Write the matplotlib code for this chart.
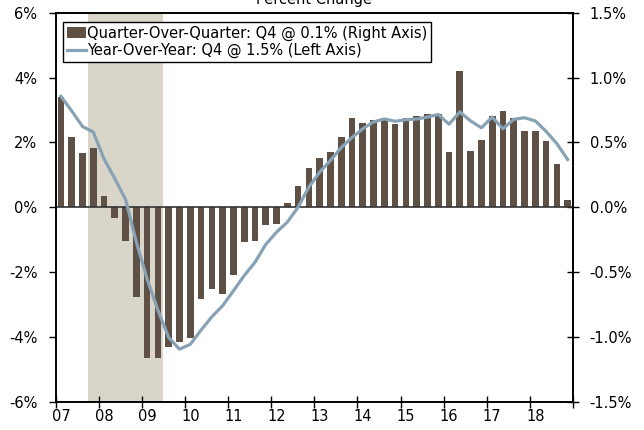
import matplotlib
matplotlib.use("Agg")
import matplotlib.pyplot as plt
import numpy as np
from matplotlib.patches import Patch
from matplotlib.lines import Line2D

# quarterly data, 2007 Q1 .. 2018 Q4
qoq = [0.85, 0.54, 0.42, 0.46,
       0.09, -0.08, -0.26, -0.69,
       -1.165, -1.16, -1.08, -1.04,
       -1.01, -0.71, -0.63, -0.67,
       -0.52, -0.27, -0.26, -0.14,
       -0.13, 0.03, 0.16, 0.30,
       0.38, 0.425, 0.54, 0.69,
       0.65, 0.67, 0.69, 0.64,
       0.69, 0.70, 0.715, 0.715,
       0.425, 1.05, 0.435, 0.52,
       0.70, 0.745, 0.69, 0.585,
       0.59, 0.51, 0.33, 0.055]

yoy = [3.42, 2.97, 2.49, 2.32,
       1.49, 0.88, 0.24, -1.08,
       -2.22, -3.18, -4.02, -4.38,
       -4.23, -3.79, -3.38, -3.04,
       -2.58, -2.11, -1.70, -1.15,
       -0.77, -0.46, 0.0, 0.62,
       1.08, 1.44, 1.84, 2.15,
       2.42, 2.63, 2.72, 2.65,
       2.70, 2.72, 2.78, 2.86,
       2.56, 2.94, 2.66, 2.45,
       2.78, 2.42, 2.71, 2.76,
       2.66, 2.34, 1.96, 1.47]

years = list(range(2007, 2019))
year_labels = ["07", "08", "09", "10", "11", "12", "13", "14", "15", "16", "17", "18"]
recession = (2007.75, 2009.5)

bar_color = "#5e5045"
line_color = "#87a2b5"
shade_color = "#d9d5c8"

x = 2007 + (np.arange(len(qoq)) + 0.5) / 4

plt.rcParams["font.family"] = "DejaVu Sans"
plt.rcParams["font.size"] = 10.5

fig = plt.figure(figsize=(6.44, 4.30), dpi=100)
ax = fig.add_axes([0.0862, 0.0658, 0.8036, 0.9047])
ax2 = ax.twinx()

# shading + bars on right axis, line on left axis drawn on top
ax2.axvspan(recession[0], recession[1], color=shade_color, zorder=0, lw=0)
ax2.bar(x, qoq, width=0.155, color=bar_color, zorder=2)
ax2.axhline(0, color="#333333", lw=1.2, zorder=3)
ax.plot(x, yoy, color=line_color, lw=2.3, zorder=4)
ax.set_zorder(ax2.get_zorder() + 1)
ax.patch.set_visible(False)

ax.set_xlim(2007, 2019)
ax.set_ylim(-6, 6)
ax2.set_ylim(-1.5, 1.5)

ax.set_yticks([-6, -4, -2, 0, 2, 4, 6])
ax.set_yticklabels(["%d%%" % v for v in [-6, -4, -2, 0, 2, 4, 6]])
ax2.set_yticks([-1.5, -1.0, -0.5, 0.0, 0.5, 1.0, 1.5])
ax2.set_yticklabels(["%.1f%%" % v for v in [-1.5, -1.0, -0.5, 0.0, 0.5, 1.0, 1.5]])

ax.set_xticks(years + [2019])
ax.set_xticklabels([])
ax.set_xticks([y + 0.125 for y in years], minor=True)
ax.set_xticklabels(year_labels, minor=True)
ax.tick_params(axis="x", which="major", direction="inout", length=8, width=1)
ax.tick_params(axis="x", which="minor", length=0, pad=5)
ax.tick_params(axis="y", direction="out", length=5, width=1, pad=8)
ax2.tick_params(axis="y", direction="inout", length=8, width=1, pad=8)

for a in (ax, ax2):
    for s in a.spines.values():
        s.set_linewidth(1.2)
        s.set_color("black")

handles = [Patch(facecolor=bar_color, edgecolor="none"),
           Line2D([], [], color=line_color, lw=2.3)]
labels = ["Quarter-Over-Quarter: Q4 @ 0.1% (Right Axis)",
          "Year-Over-Year: Q4 @ 1.5% (Left Axis)"]
leg = ax.legend(handles, labels, loc="upper left", bbox_to_anchor=(0.0145, 0.976),
                borderaxespad=0, fancybox=False, framealpha=1, edgecolor="black",
                handlelength=1.3, handletextpad=0.1, labelspacing=0.15,
                borderpad=0.25, fontsize=10.5)
leg.get_frame().set_linewidth(1)

fig.text(0.4876, 1 - 4 / 430, "Percent Change", ha="center", va="baseline", fontsize=10.5)

fig.savefig("out.png", dpi=100)
